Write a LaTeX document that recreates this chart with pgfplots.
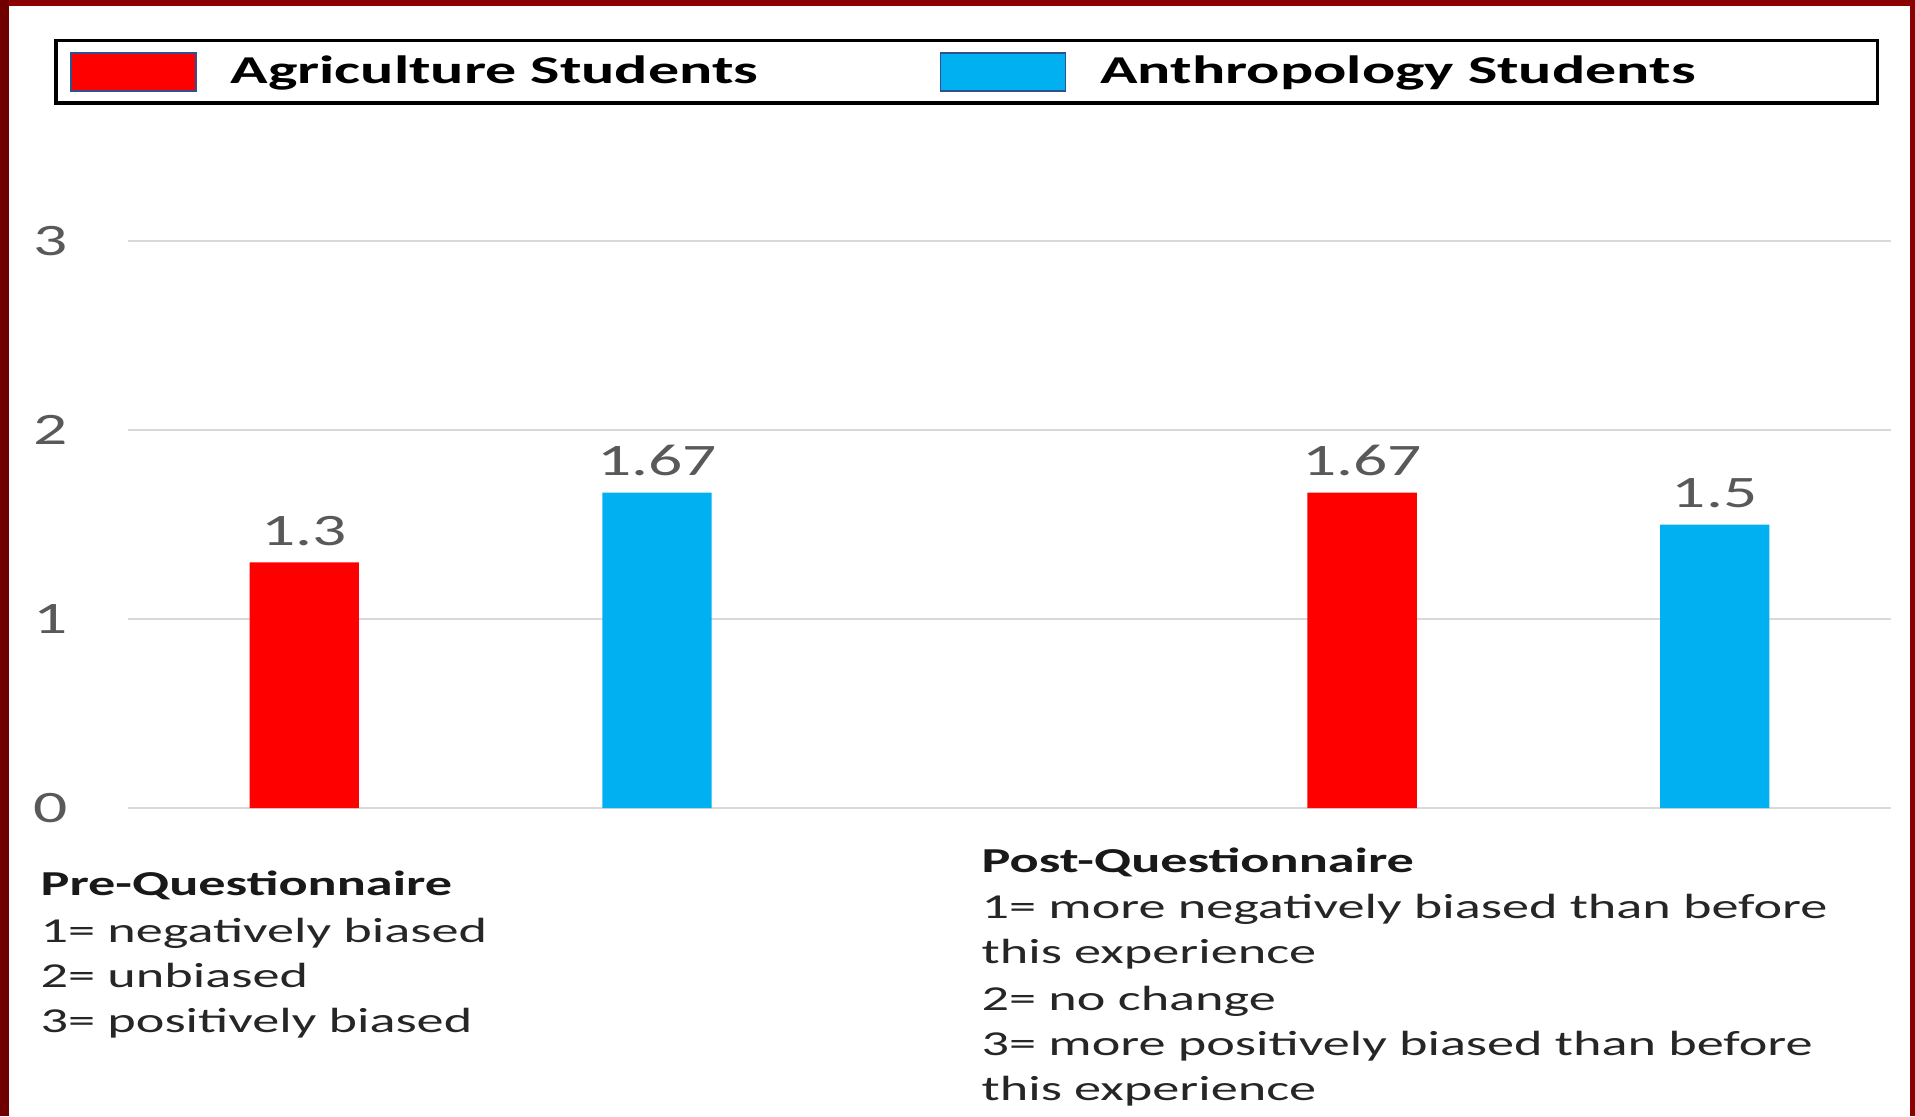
\documentclass[border=0pt]{standalone}
\usepackage{fontspec}
\setmainfont{Carlito}
\usepackage{graphicx}
\usepackage{pgfplots}
\pgfplotsset{compat=1.18}
\definecolor{brd}{RGB}{139,0,0}
\definecolor{brdL}{RGB}{112,0,0}
\definecolor{agri}{RGB}{255,0,0}
\definecolor{anth}{RGB}{0,176,240}
\definecolor{gridc}{RGB}{217,217,217}
\definecolor{numc}{RGB}{89,89,89}
\definecolor{txt}{RGB}{38,38,38}
\definecolor{patchb}{RGB}{47,82,143}
\newcommand\wT[1]{\scalebox{1.55}[1]{#1}}
\newcommand\wN[1]{\scalebox{1.5}[1]{#1}}
\newcommand\wL[1]{\scalebox{1.57}[1]{#1}}
\begin{document}
\begin{tikzpicture}
\useasboundingbox (0,0) rectangle (574.5pt,334.8pt);
\fill[brd] (0,0) rectangle (574.5pt,334.8pt);
\fill[brdL] (0,0) rectangle (2.7pt,334.8pt);
\fill[white] (2.7pt,0) rectangle (573pt,333pt);
\begin{axis}[
  at={(38.4pt,92.4pt)}, anchor=south west,
  scale only axis, width=528.9pt, height=170pt,
  xmin=0, xmax=1, ymin=0, ymax=3,
  axis line style={draw=none},
  major tick length=0pt,
  xtick=\empty,
  ytick={0,1,2,3},
  /pgf/number format/assume math mode=true,
  yticklabel={\wN{\pgfmathprintnumber{\tick}}},
  yticklabel style={font=\fontsize{13.5}{16}\selectfont, text=numc, anchor=center, xshift=-23.1pt},
  ymajorgrids, grid style={gridc, line width=0.7pt},
  ybar, bar width=0.062,
  clip=false,
  nodes near coords={\wN{\pgfmathprintnumber{\pgfplotspointmeta}}},
  nodes near coords style={font=\fontsize{13.5}{16}\selectfont, text=numc, anchor=south, inner sep=0pt, yshift=4.8pt},
  legend columns=2,
  legend style={at={(-0.0418,1.357)}, anchor=north west,
    draw=black, line width=1pt, fill=white,
    inner xsep=4.2pt, inner ysep=3.4pt,
    font=\fontsize{11.85}{14}\selectfont\bfseries,
    nodes={inner sep=0pt},
    /tikz/every odd column/.append style={column sep=10.2pt},
    /tikz/every even column/.append style={column sep=0pt}},
  legend image code/.code={\draw[#1,draw=patchb,line width=0.5pt] (0pt,-5.7pt) rectangle (37.5pt,5.7pt);},
]
\addplot[fill=agri, draw=none, bar shift=0pt] coordinates {(0.1,1.3) (0.7,1.67)};
\addlegendentry{\makebox[212.7pt][l]{\wL{Agriculture Students}}}
\addplot[fill=anth, draw=none, bar shift=0pt] coordinates {(0.3,1.67) (0.9,1.5)};
\addlegendentry{\makebox[228.9pt][l]{\wL{Anthropology Students}}}
\end{axis}
\begin{scope}[yshift=334.8pt, x=0.3pt, y=-0.3pt]
\tikzset{tl/.style={anchor=base west, inner sep=0pt, font=\fontsize{10.5}{12}\selectfont, text=txt}}
\node[tl, font=\fontsize{10.5}{12}\selectfont\bfseries, text=black!90] at (40,895) {\wT{Pre-Questionnaire}};
\node[tl] at (40,942) {\wT{1= negatively biased}};
\node[tl] at (40,987) {\wT{2= unbiased}};
\node[tl] at (40,1032) {\wT{3= positively biased}};
\node[tl, font=\fontsize{10.5}{12}\selectfont\bfseries, text=black!90] at (981,872) {\wT{Post-Questionnaire}};
\node[tl] at (981,918) {\wT{1= more negatively biased than before}};
\node[tl] at (981,963) {\wT{this experience}};
\node[tl] at (981,1010) {\wT{2= no change}};
\node[tl] at (981,1055) {\wT{3= more positively biased than before}};
\node[tl] at (981,1100) {\wT{this experience}};
\end{scope}
\end{tikzpicture}
\end{document}
